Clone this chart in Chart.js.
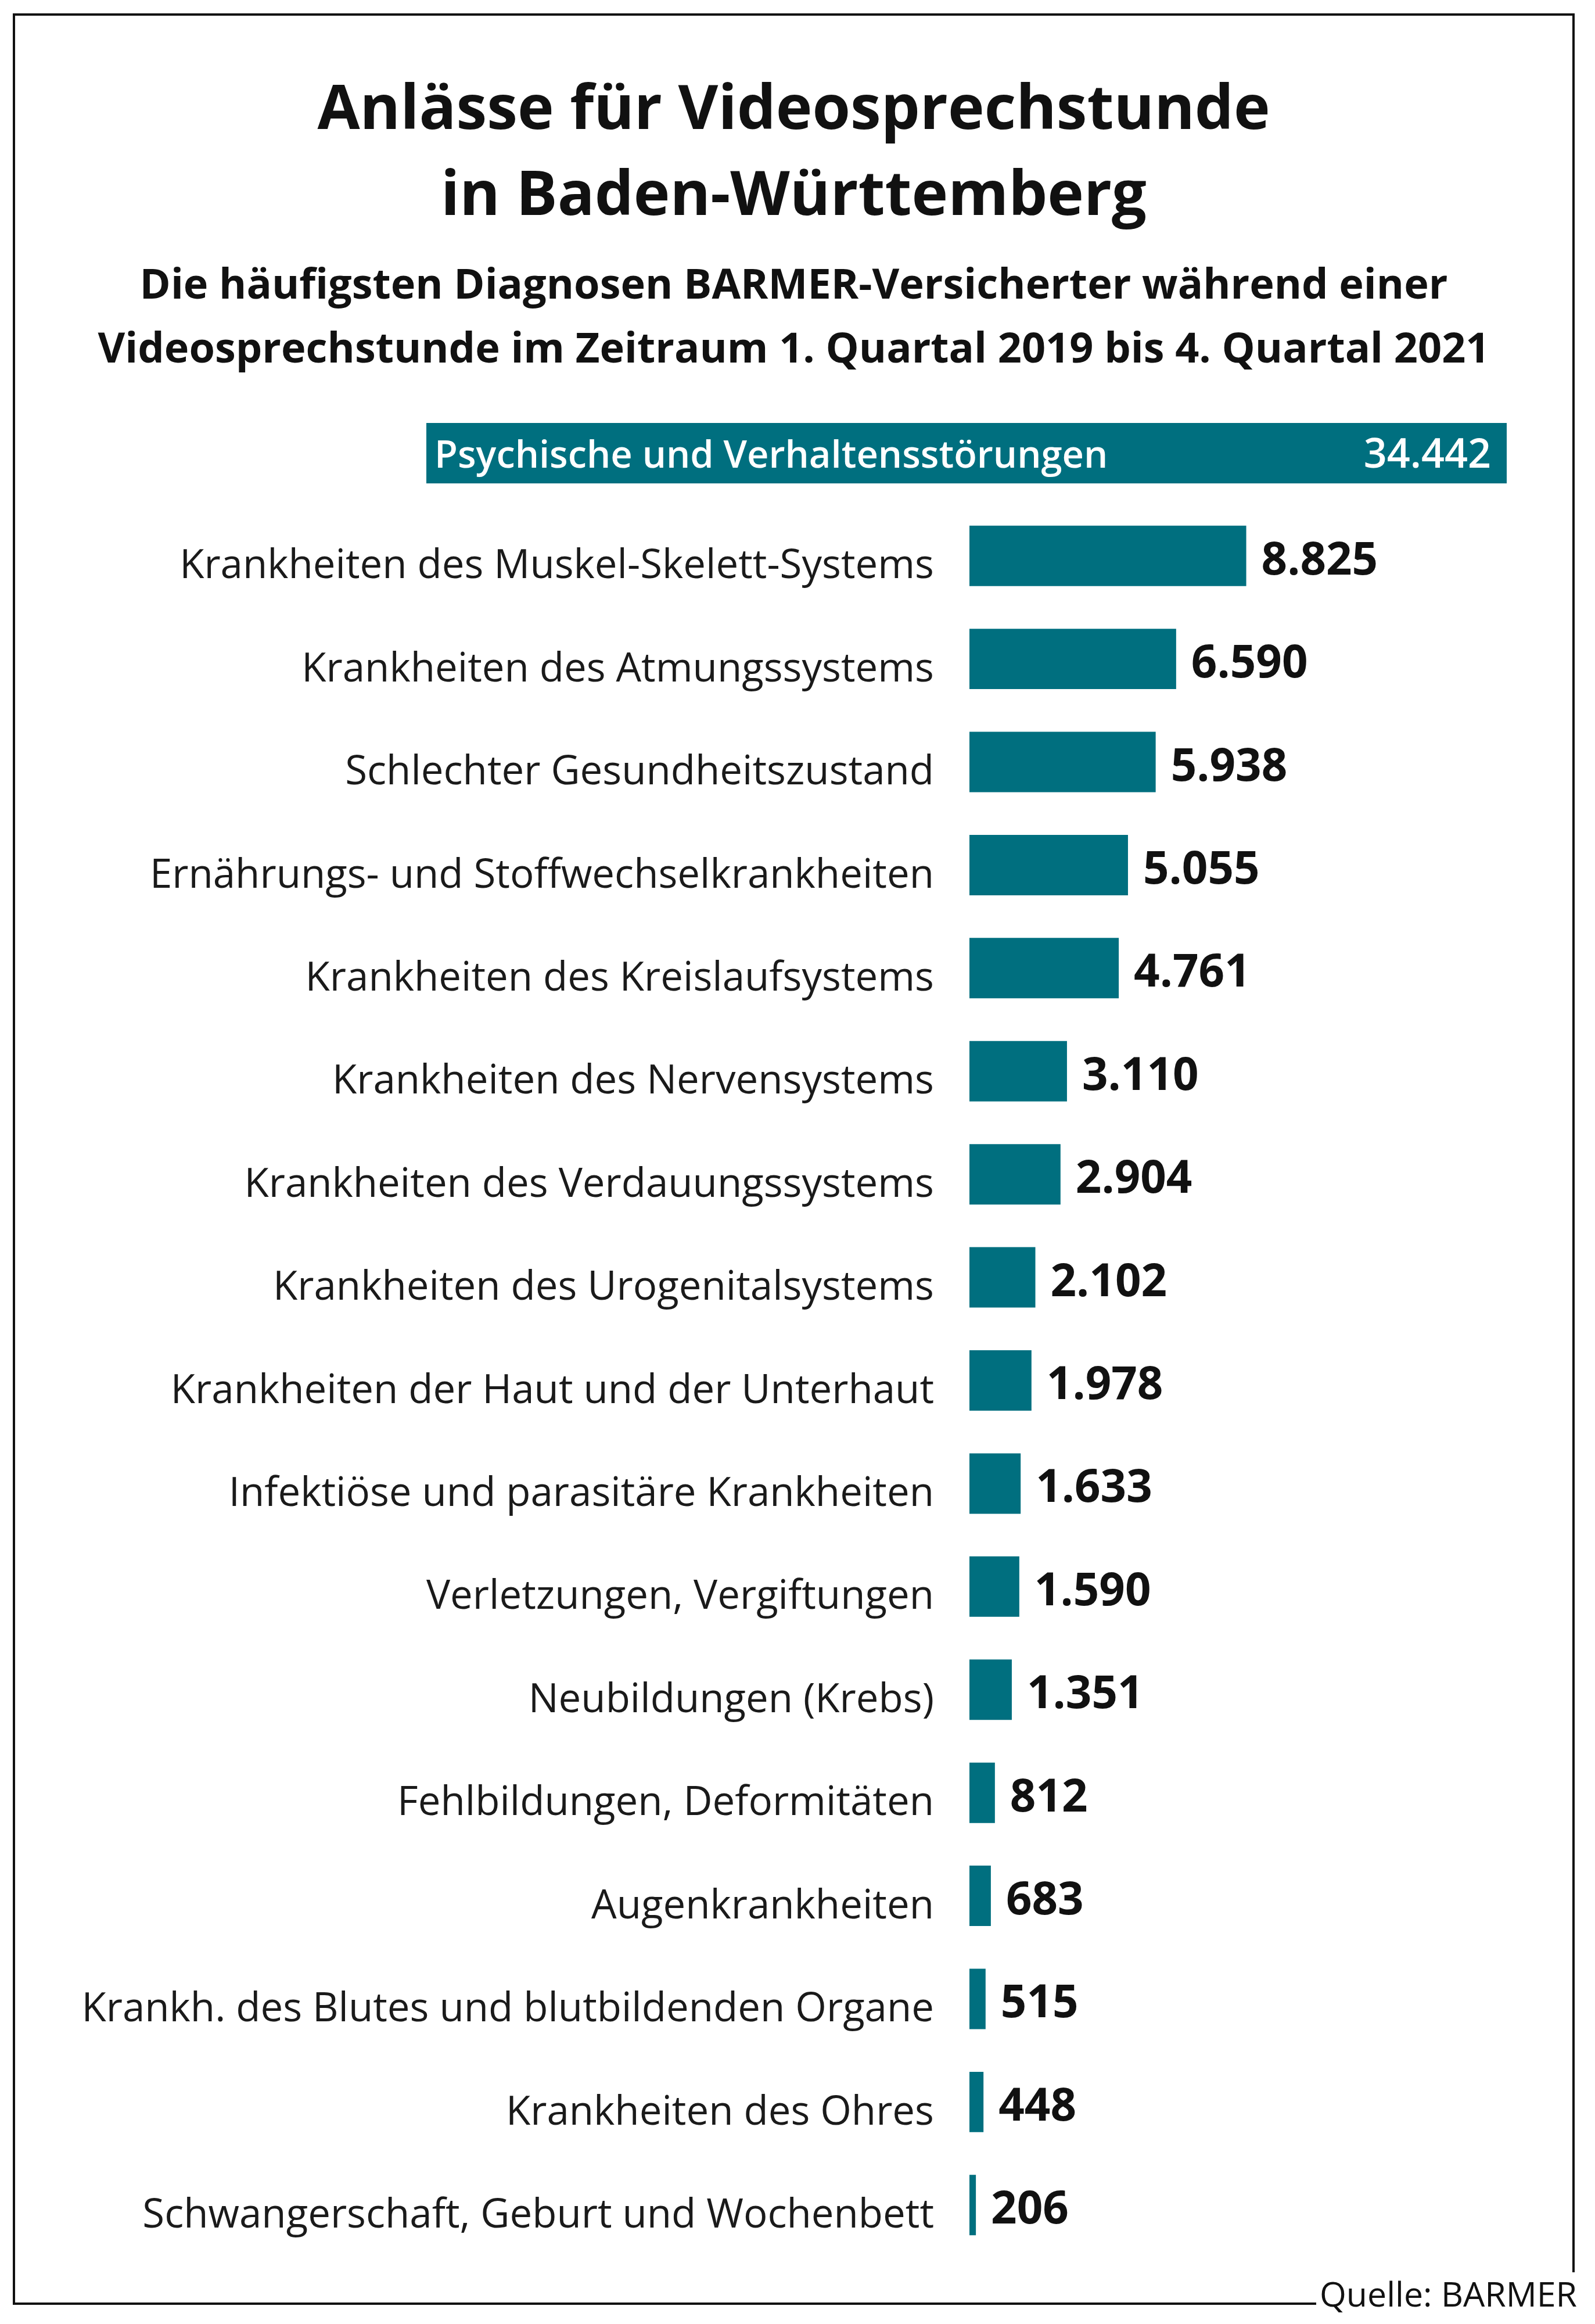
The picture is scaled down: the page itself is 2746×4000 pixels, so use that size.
<!DOCTYPE html>
<html lang="de">
<head>
<meta charset="utf-8">
<title>Anlässe für Videosprechstunde in Baden-Württemberg</title>
<script src="https://cdn.jsdelivr.net/npm/chart.js@4.4.1/dist/chart.umd.min.js"></script>
<style>
  body { margin: 0; background: #fff; font-family: 'Open Sans', sans-serif; color: #111; }
  #page { position: relative; width: 2746px; height: 4000px; overflow: hidden; }
  .line { position: absolute; background: #111; }
  .txt { position: absolute; left: 0; width: 2733px; text-align: center; white-space: nowrap; }
  .title { font-weight: 700; font-size: 106px; line-height: 106px; }
  .sub { font-weight: 700; font-size: 72px; line-height: 72px; }
  #source { position: absolute; right: 31px; top: 3918px; font-size: 59px; line-height: 59px; white-space: nowrap; }
  #bannerBox { position: absolute; left: 734px; top: 728px; width: 1860px; height: 104px; }
  #mainBox { position: absolute; left: 0; top: 868px; width: 2641px; height: 3016px; }
</style>
</head>
<body>
<div id="page">
  <!-- frame, open at the bottom right for the source line -->
  <div class="line" style="left:22px; top:23px; width:2689px; height:4px;"></div>
  <div class="line" style="left:22px; top:23px; width:4px; height:3944px;"></div>
  <div class="line" style="left:2707px; top:23px; width:4px; height:3888px;"></div>
  <div class="line" style="left:22px; top:3963px; width:2244px; height:4px;"></div>

  <div class="txt title" style="top:128px;">Anlässe für Videosprechstunde</div>
  <div class="txt title" style="top:276px;">in Baden-Württemberg</div>
  <div class="txt sub" style="top:450px;">Die häufigsten Diagnosen BARMER-Versicherter während einer</div>
  <div class="txt sub" style="top:560px;">Videosprechstunde im Zeitraum 1. Quartal 2019 bis 4. Quartal 2021</div>

  <div id="bannerBox"><canvas id="bannerChart" width="1860" height="104"></canvas></div>
  <div id="mainBox"><canvas id="mainChart" width="2641" height="3016"></canvas></div>

  <div id="source">Quelle: BARMER</div>
</div>

<script>
// Top group, shown as a banner
const topLabel = ['Psychische und Verhaltensstörungen'];
const topValue = [34442];

// Remaining diagnosis groups
const diagnoses = [
  'Krankheiten des Muskel-Skelett-Systems',
  'Krankheiten des Atmungssystems',
  'Schlechter Gesundheitszustand',
  'Ernährungs- und Stoffwechselkrankheiten',
  'Krankheiten des Kreislaufsystems',
  'Krankheiten des Nervensystems',
  'Krankheiten des Verdauungssystems',
  'Krankheiten des Urogenitalsystems',
  'Krankheiten der Haut und der Unterhaut',
  'Infektiöse und parasitäre Krankheiten',
  'Verletzungen, Vergiftungen',
  'Neubildungen (Krebs)',
  'Fehlbildungen, Deformitäten',
  'Augenkrankheiten',
  'Krankh. des Blutes und blutbildenden Organe',
  'Krankheiten des Ohres',
  'Schwangerschaft, Geburt und Wochenbett'
];
const cases = [8825, 6590, 5938, 5055, 4761, 3110, 2904, 2102, 1978, 1633, 1590, 1351, 812, 683, 515, 448, 206];

const teal = '#006f7f';

Chart.defaults.font.family = "'Open Sans', sans-serif";
Chart.defaults.color = '#111';

function fmt(v) {
  return String(v).replace(/\B(?=(\d{3})+(?!\d))/g, '.');
}

// value labels right of the bars
const valueLabels = {
  id: 'valueLabels',
  afterDatasetsDraw(chart) {
    const ctx = chart.ctx;
    const meta = chart.getDatasetMeta(0);
    ctx.save();
    ctx.font = "700 78px 'Open Sans'";
    ctx.fillStyle = '#111';
    ctx.textAlign = 'left';
    ctx.textBaseline = 'alphabetic';
    meta.data.forEach((bar, i) => {
      ctx.fillText(fmt(chart.data.datasets[0].data[i]), bar.x + 26, bar.y + 32);
    });
    ctx.restore();
  }
};

// texts inside the banner bar
const bannerText = {
  id: 'bannerText',
  afterDatasetsDraw(chart) {
    const ctx = chart.ctx;
    const bar = chart.getDatasetMeta(0).data[0];
    const area = chart.chartArea;
    ctx.save();
    ctx.fillStyle = '#fff';
    ctx.textBaseline = 'alphabetic';
    ctx.font = "600 65px 'Open Sans'";
    ctx.textAlign = 'left';
    ctx.fillText(chart.data.labels[0], area.left + 14, bar.y + 25);
    ctx.font = "600 70px 'Open Sans'";
    ctx.textAlign = 'right';
    ctx.fillText(fmt(chart.data.datasets[0].data[0]), bar.x - 27, bar.y + 25);
    ctx.restore();
  }
};

new Chart(document.getElementById('bannerChart'), {
  type: 'bar',
  data: {
    labels: topLabel,
    datasets: [{
      data: topValue,
      backgroundColor: teal,
      barPercentage: 1,
      categoryPercentage: 1
    }]
  },
  options: {
    indexAxis: 'y',
    responsive: false,
    animation: false,
    layout: { padding: 0 },
    plugins: { legend: { display: false }, tooltip: { enabled: false } },
    scales: {
      x: { display: false, min: 0, max: topValue[0] },
      y: { display: false }
    }
  },
  plugins: [bannerText]
});

new Chart(document.getElementById('mainChart'), {
  type: 'bar',
  data: {
    labels: diagnoses,
    datasets: [{
      data: cases,
      backgroundColor: teal,
      barPercentage: 0.586,
      categoryPercentage: 1
    }]
  },
  options: {
    indexAxis: 'y',
    responsive: false,
    animation: false,
    layout: { padding: 0 },
    plugins: { legend: { display: false }, tooltip: { enabled: false } },
    scales: {
      x: { display: false, min: 0, max: 18000 },
      y: {
        grid: { display: false, drawTicks: false },
        border: { display: false },
        ticks: {
          autoSkip: false,
          padding: 61,
          labelOffset: 19,
          color: '#1a1a1a',
          font: { size: 69, weight: '400' }
        },
        afterFit(scale) {
          scale.width = 1669;
          scale.paddingTop = 0;
          scale.paddingBottom = 0;
        }
      }
    }
  },
  plugins: [valueLabels]
});
</script>
</body>
</html>
